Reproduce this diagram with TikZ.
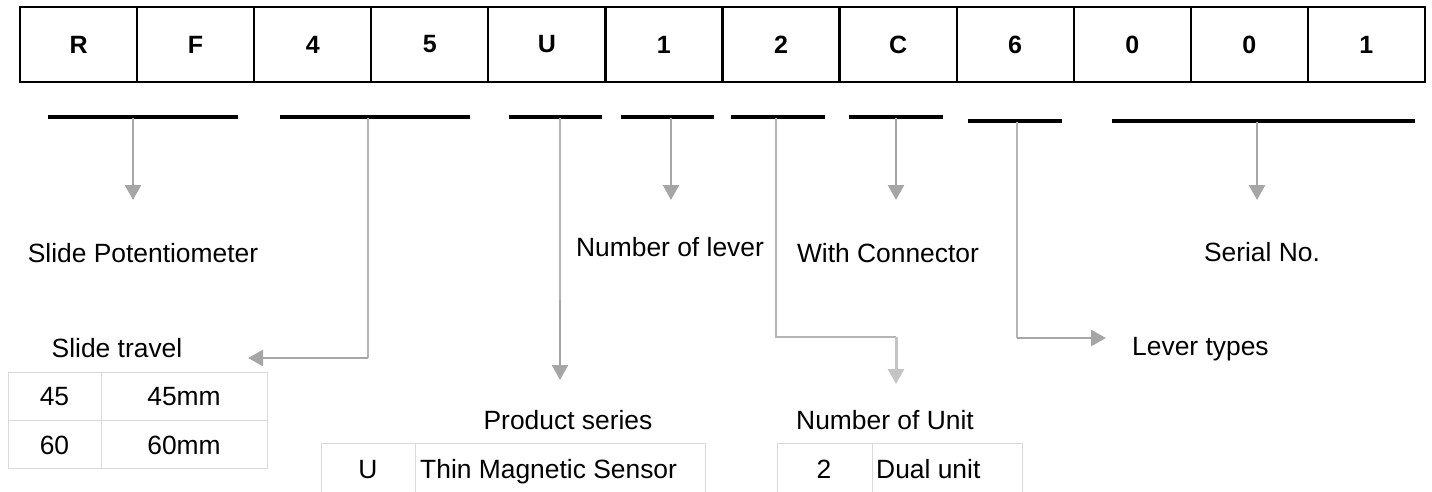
\documentclass[tikz,border=0pt]{standalone}
\usepackage{fontspec}
\setmainfont{Liberation Sans}
\usetikzlibrary{arrows.meta,calc}
\definecolor{arrgray}{HTML}{A6A6A6}
\definecolor{thingray}{HTML}{B4B4B4}
\definecolor{lightarr}{HTML}{C4C4C4}
\definecolor{tblgray}{HTML}{D9D9D9}
\begin{document}
\begin{tikzpicture}[x=1pt,y=-1pt,
  cell/.style={draw=black,line width=2.2pt,minimum width=117.08pt,minimum height=75pt,inner sep=0pt,
    font=\fontsize{25}{29}\selectfont\bfseries},
  uline/.style={draw=black,line width=3.5pt},
  garrow/.style={draw=arrgray,line width=2.5pt,-{Triangle[width=16pt,length=15pt]}},
  larrow/.style={draw=lightarr,line width=3pt,-{Triangle[width=16pt,length=15pt]}},
  thinline/.style={draw=thingray,line width=1.5pt},
  lbl/.style={inner sep=0pt,anchor=base,font=\fontsize{26.4}{30}\selectfont},
  tcell/.style={inner sep=0pt,font=\fontsize{26.4}{30}\selectfont},
  tbl/.style={draw=tblgray,line width=1pt}]
\useasboundingbox (0,0) rectangle (1432,492);
% code cells
\foreach \l [count=\i] in {R,F,4,5,U,1,2,C,6,0,0,1}
  \node[cell] (c\i) at ({20+117.08*(\i-0.5)},44.5) {\l};
% underlines
\draw[uline] (48,117) -- (238,117);
\draw[uline] (280,117) -- (470,117);
\draw[uline] (509,117) -- (602,117);
\draw[uline] (621,117) -- (714,117);
\draw[uline] (731,117) -- (825,117);
\draw[uline] (849,117) -- (943,117);
\draw[uline] (968,121) -- (1062,121);
\draw[uline] (1112,121) -- (1415,121);
% connector points
\coordinate (u1) at (133,118);
\coordinate (t1) at (133,200);
\coordinate (u2) at (368,118);
\coordinate (k2) at (368,358);
\coordinate (t2) at (248,358);
\coordinate (u3) at (560,118);
\coordinate (k3) at (560,300);
\coordinate (t3) at (560,380);
\coordinate (u4) at (671,118);
\coordinate (t4) at (671,200);
\coordinate (u5) at (776,118);
\coordinate (k5a) at (776,337);
\coordinate (k5b) at (896,337);
\coordinate (t5) at (896,384);
\coordinate (u6) at (896,118);
\coordinate (t6) at (896,200);
\coordinate (u7) at (1017,122);
\coordinate (k7) at (1017,338);
\coordinate (t7) at (1106,338);
\coordinate (u8) at (1257,122);
\coordinate (t8) at (1257,200);
% connectors
\draw[garrow] (u1) -- (t1);
\draw[thinline] (u2) -- (k2);
\draw[garrow] (k2) -- (t2);
\draw[thinline] (u3) -- (k3);
\draw[garrow] (k3) -- (t3);
\draw[garrow] (u4) -- (t4);
\draw[thinline] (u5) -- (k5a) -- (k5b);
\draw[larrow] (k5b) -- (t5);
\draw[garrow] (u6) -- (t6);
\draw[thinline] (u7) -- (k7);
\draw[garrow] (k7) -- (t7);
\draw[garrow] (u8) -- (t8);
% labels
\node[lbl] (lpot) at (143,262) {Slide Potentiometer};
\node[lbl] (llev) at (670,256) {Number of lever};
\node[lbl] (lcon) at (888,262) {With Connector};
\node[lbl] (lser) at (1262,261) {Serial No.};
\node[lbl] (ltra) at (117,357) {Slide travel};
\node[lbl,anchor=base west] (ltyp) at (1132,355) {Lever types};
\node[lbl] (lprod) at (568,429) {Product series};
\node[lbl] (lunit) at (885,429) {Number of Unit};
% slide travel table
\draw[tbl] (8,372) rectangle (267,468);
\draw[tbl] (8,420) -- (267,420);
\draw[tbl] (101,372) -- (101,468);
\node[tcell] (s11) at (54.5,397) {45};
\node[tcell] (s12) at (184,397) {45mm};
\node[tcell] (s21) at (54.5,445) {60};
\node[tcell] (s22) at (184,445) {60mm};
% product series table
\draw[tbl] (321,492) -- (321,443) -- (705,443) -- (705,492);
\draw[tbl] (415,443) -- (415,492);
\node[tcell,anchor=base] (p1) at (368,478) {U};
\node[tcell,anchor=base west] (p2) at (420,478) {Thin Magnetic Sensor};
% number of unit table
\draw[tbl] (777,492) -- (777,443) -- (1022,443) -- (1022,492);
\draw[tbl] (872,443) -- (872,492);
\node[tcell,anchor=base] (n1) at (824,478) {2};
\node[tcell,anchor=base west] (n2) at (876,478) {Dual unit};
\end{tikzpicture}
\end{document}
